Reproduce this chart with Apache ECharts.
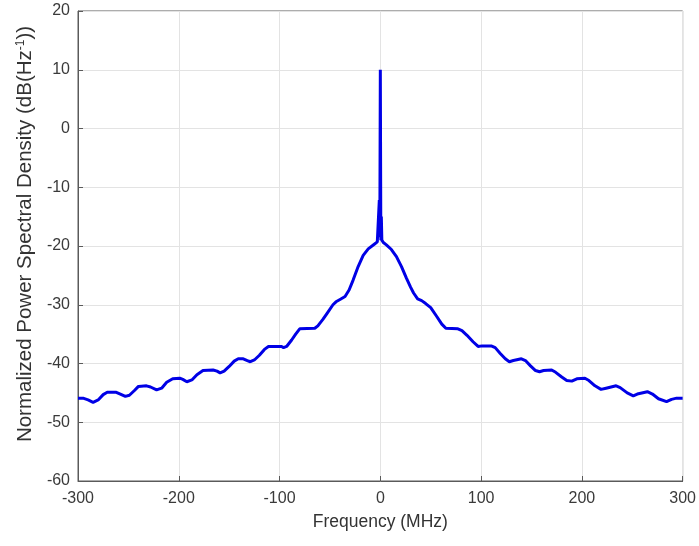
<!DOCTYPE html>
<html>
<head>
<meta charset="utf-8">
<script src="https://cdn.jsdelivr.net/npm/echarts@6/dist/echarts.min.js"></script>
<style>html,body{margin:0;padding:0;background:#fff}#c{width:699px;height:546px}</style>
</head>
<body>
<div id="c"></div>
<script>
// Frequency (MHz)
const freqs = [
  -300,-295,-290,-285,-280,-275,-271,-262,-258,-253,-249,-244,-240,-232,-228,-222,-217,-212,-206,-199,
  -196,-192,-187,-182,-176,-166,-162,-159,-155,-150,-145,-141,-136,-132,-129,-125,-120,-115,-111,-98,
  -96,-93,-88,-84,-80,-65,-62,-57,-53,-47,-44,-40,-35,-31,-27,-22,-17,-12,-6,-3,
  -1.5,-1,-0.5,0,0.5,1,1.5,3,6,11,16,21,26,30,33,37,41,45,50,56,
  61,65,77,81,86,92,97,101,110,114,119,124,128,132,140,144,149,154,158,162,
  170,174,180,185,190,195,203,207,213,219,224,234,238,245,251,255,265,270,276,284,
  289,294,300
];
// Normalized PSD (dB(Hz^-1))
const psd = [
  -45.9,-45.9,-46.2,-46.6,-46.2,-45.3,-44.9,-44.9,-45.2,-45.6,-45.4,-44.6,-43.9,-43.8,-44.0,-44.5,-44.2,-43.2,-42.6,-42.5,
  -42.7,-43.1,-42.8,-41.9,-41.2,-41.1,-41.3,-41.6,-41.3,-40.5,-39.6,-39.2,-39.2,-39.5,-39.7,-39.4,-38.6,-37.6,-37.1,-37.1,
  -37.3,-37.1,-36.0,-35.0,-34.1,-34.0,-33.6,-32.5,-31.5,-30.0,-29.5,-29.1,-28.6,-27.5,-25.8,-23.5,-21.6,-20.5,-19.7,-19.3,
  -19.2,-12.2,-18.5,10,-19.0,-15.0,-19.0,-19.4,-19.8,-20.6,-21.8,-23.5,-25.5,-27.0,-28.0,-29.0,-29.3,-29.8,-30.5,-32.0,
  -33.3,-34.0,-34.1,-34.4,-35.2,-36.3,-37.1,-37.0,-37.0,-37.3,-38.3,-39.2,-39.7,-39.5,-39.2,-39.5,-40.4,-41.2,-41.4,-41.2,
  -41.1,-41.5,-42.3,-42.9,-43.0,-42.6,-42.5,-42.9,-43.8,-44.4,-44.2,-43.8,-44.1,-45.0,-45.5,-45.2,-44.8,-45.2,-46.0,-46.5,
  -46.1,-45.9,-45.9
];
const xTicks = {min: -300, max: 300, step: 100};
const yTicks = {min: -60, max: 20, step: 10};

const font = "'Liberation Sans', Arial, sans-serif";
const chart = echarts.init(document.getElementById('c'), null, {renderer: 'canvas'});
chart.setOption({
  animation: false,
  backgroundColor: '#ffffff',
  grid: {left: 78, right: 16, top: 11, bottom: 65, show: true, borderColor: '#5a5a5a', borderWidth: 1, backgroundColor: 'transparent'},
  xAxis: {
    type: 'value', min: xTicks.min, max: xTicks.max, interval: xTicks.step,
    name: 'Frequency (MHz)', nameLocation: 'middle', nameGap: 32,
    nameTextStyle: {fontFamily: font, fontSize: 17.5, color: '#333'},
    axisLine: {show: true, onZero: false, lineStyle: {color: '#5a5a5a', width: 1}},
    axisTick: {show: true, inside: true, length: 5, lineStyle: {color: '#5a5a5a'}},
    axisLabel: {fontFamily: font, fontSize: 16, color: '#3a3a3a', margin: 10},
    splitLine: {show: true, lineStyle: {color: '#e3e3e3', width: 1}}
  },
  yAxis: {
    type: 'value', min: yTicks.min, max: yTicks.max, interval: yTicks.step,
    name: 'Normalized Power Spectral Density (dB(Hz{sup|-1}))', nameLocation: 'middle', nameGap: 40,
    nameTextStyle: {fontFamily: font, fontSize: 20.5, color: '#333', padding: [0, 0, 0, 24],
      rich: {sup: {fontFamily: font, fontSize: 12, color: '#333', verticalAlign: 'top', padding: [0,0,10,0]}}},
    axisLine: {show: true, onZero: false, lineStyle: {color: '#5a5a5a', width: 1}},
    axisTick: {show: true, inside: true, length: 5, lineStyle: {color: '#5a5a5a'}},
    axisLabel: {fontFamily: font, fontSize: 16, color: '#3a3a3a', margin: 8},
    splitLine: {show: true, lineStyle: {color: '#e3e3e3', width: 1}}
  },
  series: [{
    type: 'line',
    data: freqs.map((f, i) => [f, psd[i]]),
    showSymbol: false,
    smooth: false,
    lineStyle: {color: '#0000e6', width: 3},
    z: 3
  }]
});
</script>
</body>
</html>
